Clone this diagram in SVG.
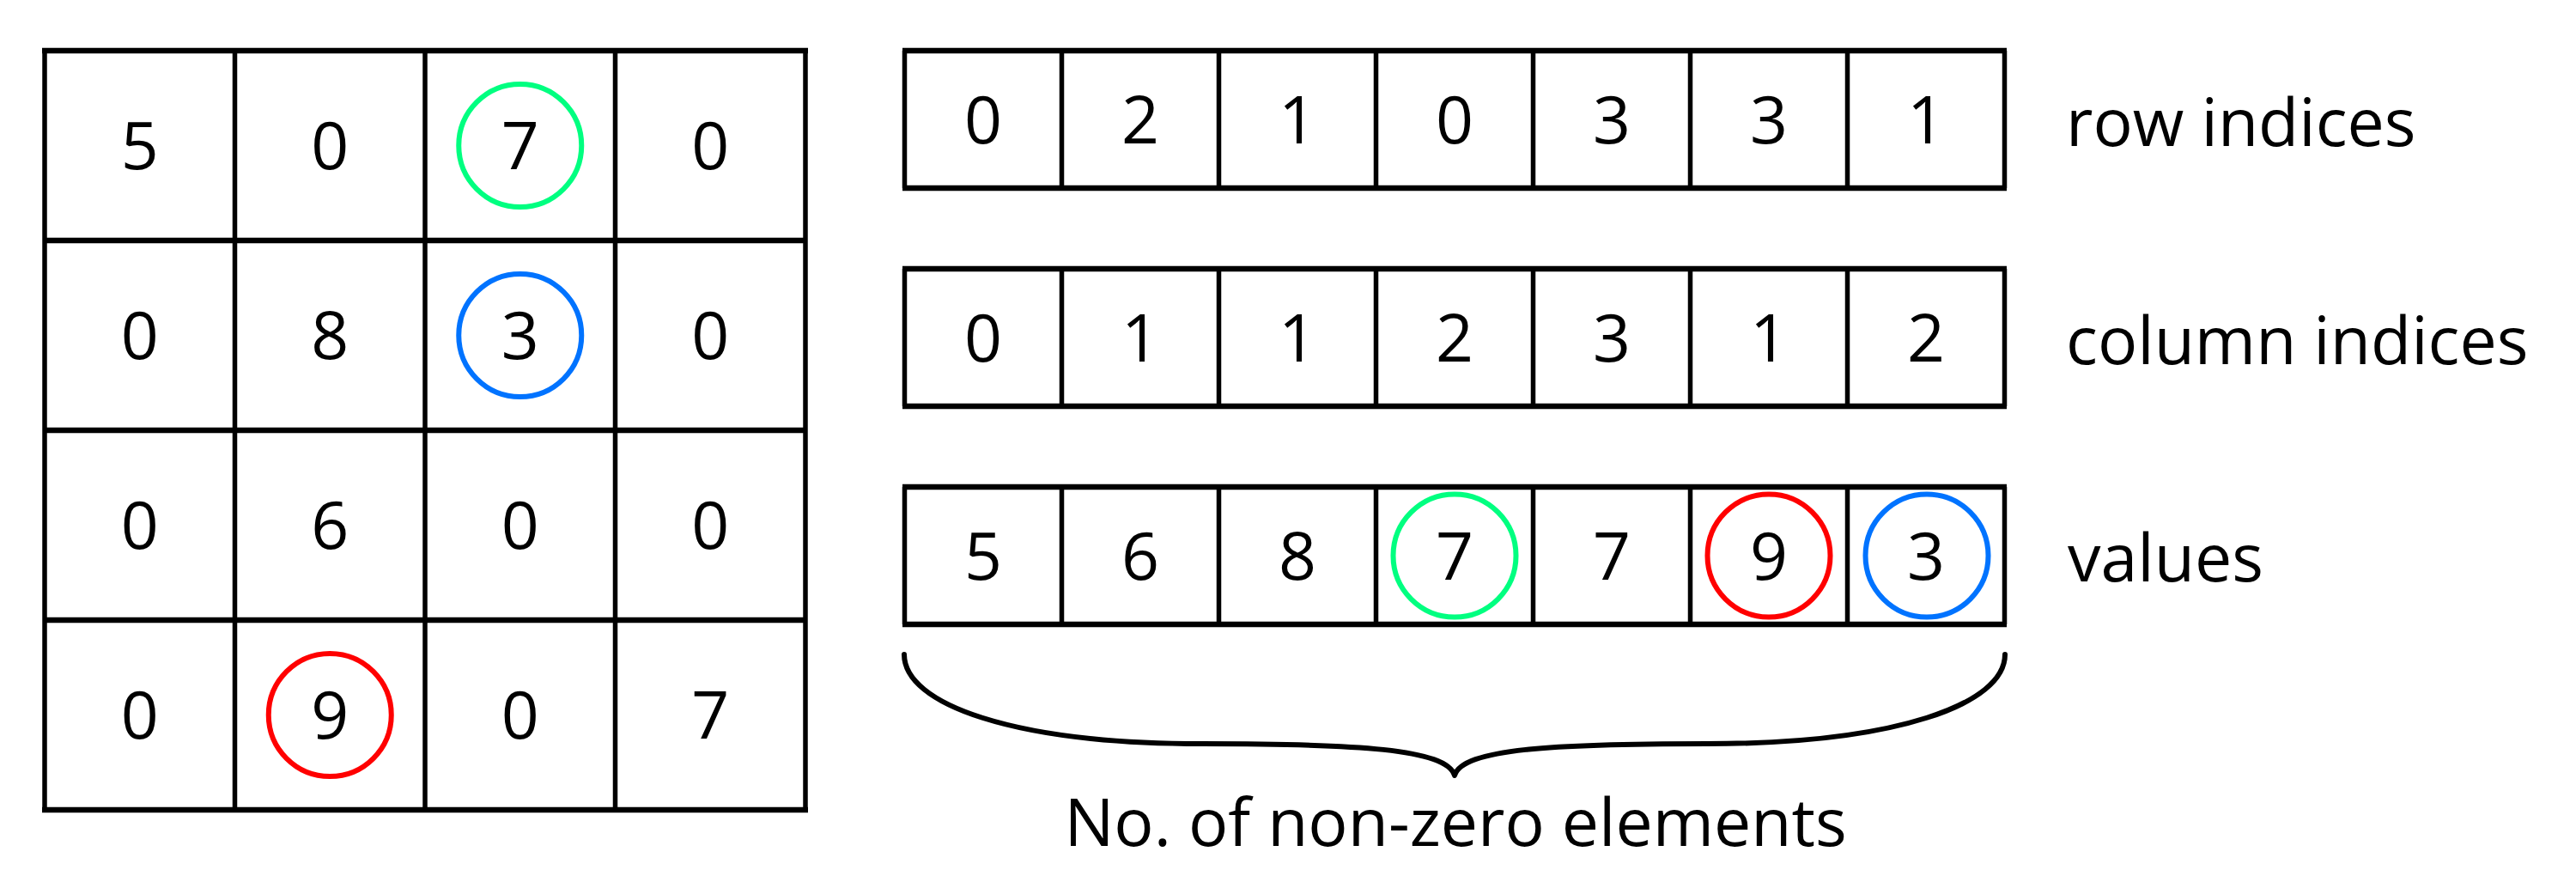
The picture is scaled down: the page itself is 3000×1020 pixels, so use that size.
<svg xmlns="http://www.w3.org/2000/svg" width="3000" height="1020" viewBox="0 0 3000 1020">
<style>
.h{stroke:#000;stroke-width:6.5;fill:none}
.v{stroke:#000;stroke-width:5.5;fill:none}
.t{font-family:"Open Sans","Noto Sans","DejaVu Sans",sans-serif;font-size:77px;fill:#000;text-anchor:middle}
.lbl{font-family:"Open Sans","Noto Sans","DejaVu Sans",sans-serif;font-size:77px;fill:#000}
.ring{fill:none;stroke-width:6}
.g{stroke:#00ff80}
.r{stroke:#ff0000}
.b{stroke:#0073ff}
</style>
<rect width="3000" height="1020" fill="#fff"/>
<g id="matrix">
  <g id="matrix-grid">
    <line class="h" x1="49" y1="59" x2="941" y2="59"/>
    <line class="h" x1="52" y1="280" x2="938" y2="280"/>
    <line class="h" x1="52" y1="501" x2="938" y2="501"/>
    <line class="h" x1="52" y1="722" x2="938" y2="722"/>
    <line class="h" x1="49" y1="943" x2="941" y2="943"/>
    <line class="v" x1="52" y1="59" x2="52" y2="943"/>
    <line class="v" x1="273.5" y1="59" x2="273.5" y2="943"/>
    <line class="v" x1="495" y1="59" x2="495" y2="943"/>
    <line class="v" x1="716.5" y1="59" x2="716.5" y2="943"/>
    <line class="v" x1="938" y1="59" x2="938" y2="943"/>
  </g>
  <g id="matrix-values" class="t">
    <text x="162.75" y="197">5</text><text x="384.25" y="197">0</text><text x="605.75" y="197">7</text><text x="827.25" y="197">0</text>
    <text x="162.75" y="418">0</text><text x="384.25" y="418">8</text><text x="605.75" y="418">3</text><text x="827.25" y="418">0</text>
    <text x="162.75" y="639">0</text><text x="384.25" y="639">6</text><text x="605.75" y="639">0</text><text x="827.25" y="639">0</text>
    <text x="162.75" y="860">0</text><text x="384.25" y="860">9</text><text x="605.75" y="860">0</text><text x="827.25" y="860">7</text>
  </g>
  <circle class="ring g" cx="605.75" cy="169.5" r="71.5"/>
  <circle class="ring b" cx="605.75" cy="390.5" r="71.5"/>
  <circle class="ring r" cx="384.25" cy="832.5" r="71.5"/>
</g>

<g id="row-indices">
  <line class="h" x1="1051" y1="59" x2="2337" y2="59"/>
  <line class="h" x1="1051" y1="219" x2="2337" y2="219"/>
  <line class="v" x1="1053.5" y1="59" x2="1053.5" y2="219"/>
  <line class="v" x1="1236.5" y1="59" x2="1236.5" y2="219"/>
  <line class="v" x1="1419.5" y1="59" x2="1419.5" y2="219"/>
  <line class="v" x1="1602.5" y1="59" x2="1602.5" y2="219"/>
  <line class="v" x1="1785.5" y1="59" x2="1785.5" y2="219"/>
  <line class="v" x1="1968.5" y1="59" x2="1968.5" y2="219"/>
  <line class="v" x1="2151.5" y1="59" x2="2151.5" y2="219"/>
  <line class="v" x1="2334.5" y1="59" x2="2334.5" y2="219"/>
  <g class="t">
    <text x="1145" y="167">0</text><text x="1328" y="167">2</text><text x="1511" y="167">1</text><text x="1694" y="167">0</text><text x="1877" y="167">3</text><text x="2060" y="167">3</text><text x="2243" y="167">1</text>
  </g>
  <text class="lbl" x="2406" y="170">row indices</text>
</g>

<g id="column-indices">
  <line class="h" x1="1051" y1="313" x2="2337" y2="313"/>
  <line class="h" x1="1051" y1="473" x2="2337" y2="473"/>
  <line class="v" x1="1053.5" y1="313" x2="1053.5" y2="473"/>
  <line class="v" x1="1236.5" y1="313" x2="1236.5" y2="473"/>
  <line class="v" x1="1419.5" y1="313" x2="1419.5" y2="473"/>
  <line class="v" x1="1602.5" y1="313" x2="1602.5" y2="473"/>
  <line class="v" x1="1785.5" y1="313" x2="1785.5" y2="473"/>
  <line class="v" x1="1968.5" y1="313" x2="1968.5" y2="473"/>
  <line class="v" x1="2151.5" y1="313" x2="2151.5" y2="473"/>
  <line class="v" x1="2334.5" y1="313" x2="2334.5" y2="473"/>
  <g class="t">
    <text x="1145" y="421">0</text><text x="1328" y="421">1</text><text x="1511" y="421">1</text><text x="1694" y="421">2</text><text x="1877" y="421">3</text><text x="2060" y="421">1</text><text x="2243" y="421">2</text>
  </g>
  <text class="lbl" x="2406" y="424">column indices</text>
</g>

<g id="values">
  <line class="h" x1="1051" y1="567" x2="2337" y2="567"/>
  <line class="h" x1="1051" y1="727" x2="2337" y2="727"/>
  <line class="v" x1="1053.5" y1="567" x2="1053.5" y2="727"/>
  <line class="v" x1="1236.5" y1="567" x2="1236.5" y2="727"/>
  <line class="v" x1="1419.5" y1="567" x2="1419.5" y2="727"/>
  <line class="v" x1="1602.5" y1="567" x2="1602.5" y2="727"/>
  <line class="v" x1="1785.5" y1="567" x2="1785.5" y2="727"/>
  <line class="v" x1="1968.5" y1="567" x2="1968.5" y2="727"/>
  <line class="v" x1="2151.5" y1="567" x2="2151.5" y2="727"/>
  <line class="v" x1="2334.5" y1="567" x2="2334.5" y2="727"/>
  <g class="t">
    <text x="1145" y="675">5</text><text x="1328" y="675">6</text><text x="1511" y="675">8</text><text x="1694" y="675">7</text><text x="1877" y="675">7</text><text x="2060" y="675">9</text><text x="2243" y="675">3</text>
  </g>
  <circle class="ring g" cx="1694" cy="647" r="71.5"/>
  <circle class="ring r" cx="2060" cy="647" r="71.5"/>
  <circle class="ring b" cx="2244" cy="647" r="71.5"/>
  <text class="lbl" x="2408" y="677">values</text>
</g>

<g id="connectors">
  <path d="M1053,762 C1053,820 1180,866 1400,866 C1580,866 1685,872 1694,903 C1703,872 1808,866 1988,866 C2208,866 2335,820 2335,762" fill="none" stroke="#000" stroke-width="6" stroke-linecap="round" stroke-linejoin="round"/>
</g>

<g id="brace-label">
  <text class="t" x="1695" y="985">No. of non-zero elements</text>
</g>
</svg>
